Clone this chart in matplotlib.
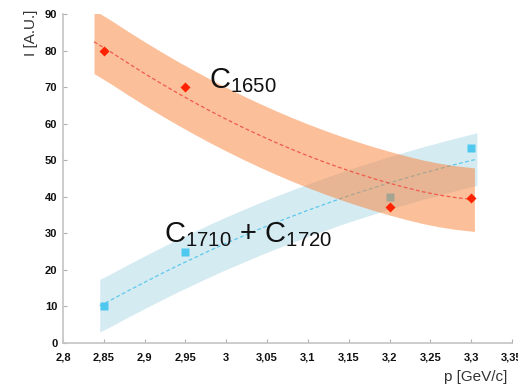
import numpy as np
import matplotlib
matplotlib.use('Agg')
import matplotlib.pyplot as plt

plt.rcParams['font.family'] = ['Liberation Sans', 'DejaVu Sans']
plt.rcParams['mathtext.fontset'] = 'custom'
plt.rcParams['mathtext.rm'] = 'Liberation Sans'

# measured points
p_red = [2.85, 2.95, 3.2, 3.3]
i_red = [80, 70, 37.3, 39.7]
p_blue = [2.85, 2.95, 3.2, 3.3]
i_blue = [10, 25, 39.8, 53.3]

# fit curves
fit_x = [2.838, 2.86, 2.88, 2.90, 2.92, 2.94, 2.96, 2.98, 3.00, 3.02, 3.04, 3.06,
         3.08, 3.10, 3.12, 3.14, 3.16, 3.18, 3.20, 3.22, 3.24, 3.26, 3.28, 3.304]
fit_red = [82.4, 79.4, 76.5, 73.7, 71.0, 68.4, 65.9, 63.5, 61.2, 59.0, 56.9, 54.9,
           53.0, 51.2, 49.5, 47.9, 46.4, 45.0, 43.7, 42.5, 41.4, 40.5, 39.8, 39.2]
red_band = 8.7
fit_bx = [2.845, 2.86, 2.88, 2.90, 2.92, 2.94, 2.96, 2.98, 3.00, 3.02, 3.04, 3.06,
          3.08, 3.10, 3.12, 3.14, 3.16, 3.18, 3.20, 3.22, 3.24, 3.26, 3.28, 3.307]
fit_blue = [10.2, 11.9, 14.3, 16.6, 18.9, 21.1, 23.2, 25.3, 27.3, 29.2, 31.1, 32.9,
            34.6, 36.3, 37.9, 39.5, 41.0, 42.4, 43.8, 45.1, 46.4, 47.6, 48.8, 50.3]
blue_band = 7.2

xticks = [2.8, 2.85, 2.9, 2.95, 3.0, 3.05, 3.1, 3.15, 3.2, 3.25, 3.3, 3.35]
xlabels = ['2,8', '2,85', '2,9', '2,95', '3', '3,05', '3,1', '3,15', '3,2', '3,25', '3,3', '3,35']
yticks = list(range(0, 91, 10))

fig = plt.figure(figsize=(5.18, 3.89), dpi=100)
ax = fig.add_axes([0.1216, 0.1183, 0.8668, 0.8458])

bx = np.array(fit_bx)
by = np.array(fit_blue)
ax.fill_between(bx, by - blue_band, by + blue_band, color='#add8e6', alpha=0.5, lw=0, zorder=1)
ax.plot(bx, by, ls=(0, (3, 2)), color='#5cc8ec', lw=0.9, zorder=2)
ax.plot(p_blue, i_blue, 's', color='#4fc8f0', ms=6, mec='none', zorder=3)

rx = np.array(fit_x)
ry = np.array(fit_red)
ax.fill_between(rx, ry - red_band, ry + red_band, color='#f98137', alpha=0.5, lw=0, zorder=4)
ax.plot(rx, ry, ls=(0, (3, 2)), color='#f05a4a', lw=0.9, zorder=5)
ax.plot(p_red, i_red, 'D', color='#ff2200', ms=5.5, mec='none', zorder=6)

ax.text(2.979, 69.7, r'$\mathregular{C_{1650}}$', fontsize=21, color='#111111', zorder=7)
ax.text(2.924, 27.6, r'$\mathregular{C_{1710}}$ + $\mathregular{C_{1720}}$', fontsize=21,
        color='#111111', zorder=7)

ax.set_xlim(2.8, 3.35)
ax.set_ylim(0, 90)
ax.set_xticks(xticks)
ax.set_xticklabels(xlabels)
ax.set_yticks(yticks)

for s in ['top', 'right']:
    ax.spines[s].set_visible(False)
for s in ['left', 'bottom']:
    ax.spines[s].set_color('#c4c4c4')
    ax.spines[s].set_linewidth(1.2)
ax.tick_params(direction='in', length=3, color='#b0b0b0', labelsize=8, labelcolor='#111111')
ax.tick_params(axis='x', pad=7)
ax.tick_params(axis='y', pad=4)
for lab in ax.get_xticklabels() + ax.get_yticklabels():
    lab.set_fontweight('bold')

fig.text(31 / 518, 1 - 33 / 389, 'I [A.U.]', rotation=90, ha='center', va='center', fontsize=11, color='#333333')
fig.text(507 / 518, 1 - 377 / 389, 'p [GeV/c]', ha='right', va='center', fontsize=11, color='#333333')

fig.savefig('out.png', dpi=100)
